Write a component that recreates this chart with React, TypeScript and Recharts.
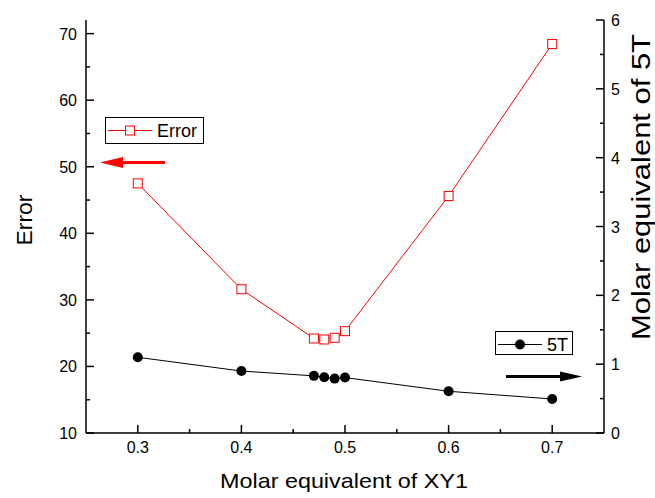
import { ComposedChart, Line, XAxis, YAxis } from 'recharts'

const xValues = [0.3, 0.4, 0.47, 0.48, 0.49, 0.5, 0.6, 0.7]
const errorValues = [47.5, 31.6, 24.2, 24.05, 24.3, 25.3, 45.6, 68.45]
const fiveTValues = [1.1, 0.9, 0.83, 0.81, 0.79, 0.805, 0.606, 0.494]

const xTicks = [0.3, 0.35, 0.4, 0.45, 0.5, 0.55, 0.6, 0.65, 0.7]
const leftTicks = [10, 15, 20, 25, 30, 35, 40, 45, 50, 55, 60, 65, 70]
const rightTicks = [0, 0.5, 1, 1.5, 2, 2.5, 3, 3.5, 4, 4.5, 5, 5.5, 6]

const data = xValues.map((x, i) => ({ x, error: errorValues[i], fiveT: fiveTValues[i] }))

const FONT = '"Liberation Sans", Arial, sans-serif'
const AXIS_W = 1.5

const isMajorX = (v: number) => Math.round(v * 100) % 10 === 0

function BottomTick({ x, y, payload }: any) {
  const major = isMajorX(payload.value)
  return (
    <g>
      <line x1={x} x2={x} y1={y} y2={y - (major ? 8 : 4)} stroke="#000" strokeWidth={AXIS_W} />
      {major && (
        <text x={x} y={y + 20} textAnchor="middle" fontSize={16} fontFamily={FONT} fill="#000">
          {payload.value.toFixed(1)}
        </text>
      )}
    </g>
  )
}

function TopTick({ x, y, payload }: any) {
  const major = isMajorX(payload.value)
  return <line x1={x} x2={x} y1={y} y2={y + (major ? 8 : 4)} stroke="#000" strokeWidth={AXIS_W} />
}

function LeftTick({ x, y, payload }: any) {
  const major = payload.value % 10 === 0
  return (
    <g>
      <line x1={x} x2={x + (major ? 8 : 4)} y1={y} y2={y} stroke="#000" strokeWidth={AXIS_W} />
      {major && (
        <text x={x - 9} y={y + 6} textAnchor="end" fontSize={16} fontFamily={FONT} fill="#000">
          {payload.value}
        </text>
      )}
    </g>
  )
}

function RightTick({ x, y, payload }: any) {
  const major = Number.isInteger(payload.value)
  return (
    <g>
      <line x1={x} x2={x - (major ? 8 : 4)} y1={y} y2={y} stroke="#000" strokeWidth={AXIS_W} />
      {major && (
        <text x={x + 7} y={y + 6} textAnchor="start" fontSize={16} fontFamily={FONT} fill="#000">
          {payload.value}
        </text>
      )}
    </g>
  )
}

function SquareDot({ cx, cy, index }: any) {
  return <rect key={index} x={cx - 4.5} y={cy - 4.5} width={9} height={9} fill="#fff" stroke="#ff0000" strokeWidth={1} />
}

function Overlay() {
  return (
    <svg width={655} height={498} style={{ position: 'absolute', left: 0, top: 0, pointerEvents: 'none' }}>
      {/* Error legend */}
      <rect x={105.5} y={117.5} width={98} height={26} fill="#fff" stroke="#000" strokeWidth={1} />
      <line x1={108} x2={152} y1={130.5} y2={130.5} stroke="#ff0000" strokeWidth={1} />
      <rect x={125.5} y={126} width={9} height={9} fill="#fff" stroke="#ff0000" strokeWidth={1} />
      <text x={157} y={137} fontSize={18} fontFamily={FONT} fill="#000">Error</text>
      {/* red arrow pointing left */}
      <line x1={165} x2={118} y1={162.5} y2={162.5} stroke="#ff0000" strokeWidth={3} />
      <polygon points="100,162.5 123,157 123,168" fill="#ff0000" />

      {/* 5T legend */}
      <rect x={495.5} y={331.5} width={77} height={23} fill="#fff" stroke="#000" strokeWidth={1} />
      <line x1={498} x2={542} y1={344.5} y2={344.5} stroke="#000" strokeWidth={1} />
      <circle cx={520} cy={344.5} r={5} fill="#000" />
      <text x={547} y={351} fontSize={18} fontFamily={FONT} fill="#000">5T</text>
      {/* black arrow pointing right */}
      <line x1={506} x2={565} y1={376.5} y2={376.5} stroke="#000" strokeWidth={3} />
      <polygon points="582,376.5 560,371.5 560,381.5" fill="#000" />

      {/* axis titles */}
      <text x={344} y={488} textAnchor="middle" fontSize={21} fontFamily={FONT} fill="#000" textLength={248} lengthAdjust="spacingAndGlyphs">
        Molar equivalent of XY1
      </text>
      <text x={-220} y={32} textAnchor="middle" fontSize={22} fontFamily={FONT} fill="#000" transform="rotate(-90)" textLength={51} lengthAdjust="spacingAndGlyphs">
        Error
      </text>
      <text x={-187} y={650} textAnchor="middle" fontSize={25} fontFamily={FONT} fill="#000" transform="rotate(-90)" textLength={306} lengthAdjust="spacingAndGlyphs">
        Molar equivalent of 5T
      </text>
    </svg>
  )
}

export default function App() {
  return (
    <div style={{ position: 'absolute', left: 0, top: 0, width: 655, height: 498, background: '#fff' }}>
      <ComposedChart width={655} height={498} data={data} margin={{ top: 20, right: 0, bottom: 0, left: 0 }}>
        <XAxis
          xAxisId="bottom"
          type="number"
          dataKey="x"
          domain={[0.25, 0.75]}
          ticks={xTicks}
          allowDataOverflow
          height={65}
          tickSize={0}
          tickMargin={0}
          tick={<BottomTick />}
          axisLine={{ stroke: '#000', strokeWidth: AXIS_W }}
          interval={0}
        />
        <XAxis
          xAxisId="top"
          orientation="top"
          type="number"
          dataKey="x"
          domain={[0.25, 0.75]}
          ticks={xTicks}
          allowDataOverflow
          height={0}
          tickSize={0}
          tickMargin={0}
          tick={<TopTick />}
          axisLine={{ stroke: '#000', strokeWidth: AXIS_W }}
          interval={0}
        />
        <YAxis
          yAxisId="left"
          domain={[10, 72.05]}
          ticks={leftTicks}
          allowDataOverflow
          width={86}
          tickSize={0}
          tickMargin={0}
          tick={<LeftTick />}
          axisLine={{ stroke: '#000', strokeWidth: AXIS_W }}
          interval={0}
        />
        <YAxis
          yAxisId="right"
          orientation="right"
          domain={[0, 6]}
          ticks={rightTicks}
          allowDataOverflow
          width={51}
          tickSize={0}
          tickMargin={0}
          tick={<RightTick />}
          axisLine={{ stroke: '#000', strokeWidth: AXIS_W }}
          interval={0}
        />
        <Line
          xAxisId="bottom"
          yAxisId="left"
          dataKey="error"
          stroke="#ff0000"
          strokeWidth={1}
          dot={<SquareDot />}
          isAnimationActive={false}
        />
        <Line
          xAxisId="bottom"
          yAxisId="right"
          dataKey="fiveT"
          stroke="#000"
          strokeWidth={1}
          dot={{ r: 5, fill: '#000', stroke: '#000', strokeWidth: 0 }}
          isAnimationActive={false}
        />
      </ComposedChart>
      <Overlay />
    </div>
  )
}
